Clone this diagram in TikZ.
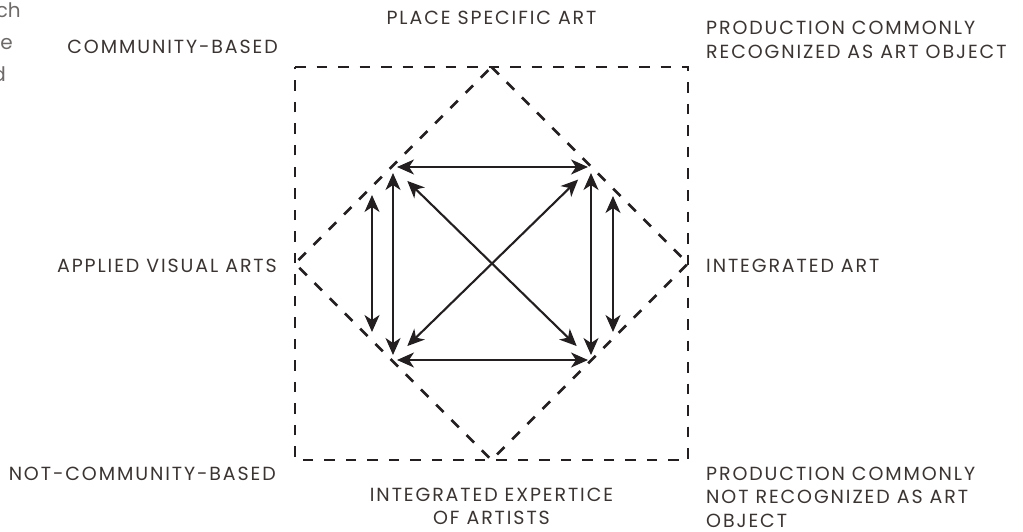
\documentclass[tikz,border=0pt]{standalone}
\usepackage{fontspec}
\setmainfont{Poppins}[LetterSpace=10]
\usetikzlibrary{arrows.meta}
\definecolor{ink}{HTML}{231F20}
\definecolor{txt}{HTML}{3A3432}
\definecolor{greytxt}{HTML}{6E6A6A}
\begin{document}
\begin{tikzpicture}[x=1pt,y=-1pt,
  frame/.style={ink, line width=2.8pt, dash pattern=on 10.5pt off 11pt},
  tipa/.tip={Stealth[length=17pt,width=15pt,inset=5pt]},
  link/.style={ink, line width=2.1pt, tipa-tipa},
  lab/.style={txt, font=\fontsize{19}{24}\selectfont, inner sep=0pt},
  cut/.style={greytxt, font=\fontsize{20}{32}\selectfont\addfontfeatures{LetterSpace=0}, inner sep=0pt, anchor=base east}]
\useasboundingbox (0,0) rectangle (1023,532);
% outer square
\coordinate (s1) at (295,67);
\coordinate (s2) at (688,67);
\coordinate (s3) at (688,460);
\coordinate (s4) at (295,460);
\draw[frame] (s1) -- (s2) -- (s3) -- (s4) -- cycle;
% diamond
\coordinate (dt) at (491.5,67);
\coordinate (dr) at (688,263.5);
\coordinate (db) at (491.5,460);
\coordinate (dl) at (295,263.5);
\draw[frame] (dt) -- (dr) -- (db) -- (dl) -- cycle;
% inner corners
\coordinate (tl) at (393,167);
\coordinate (tr) at (591,167);
\coordinate (bl) at (393,360);
\coordinate (br) at (591,360);
\draw[link, shorten <=4pt, shorten >=3pt] (tl) -- (tr);
\draw[link, shorten <=4pt, shorten >=3pt] (bl) -- (br);
\draw[link, shorten <=6pt, shorten >=5pt] (tl) -- (bl);
\draw[link, shorten <=6pt, shorten >=5pt] (tr) -- (br);
\draw[link, shorten <=20pt, shorten >=20pt] (tl) -- (br);
\draw[link, shorten <=20pt, shorten >=18pt] (bl) -- (tr);
% short verticals
\coordinate (sl1) at (372,195);
\coordinate (sl2) at (372,332);
\coordinate (sr1) at (613,196);
\coordinate (sr2) at (613,332);
\draw[link] (sl1) -- (sl2);
\draw[link] (sr1) -- (sr2);
% labels
\node[lab, anchor=base] (place) at (491.5,25) {PLACE SPECIFIC ART};
\node[lab, anchor=base east] (comm) at (278,54) {COMMUNITY-BASED};
\node[lab, anchor=base west] (prodA1) at (706,35) {PRODUCTION COMMONLY};
\node[lab, anchor=base west] (prodA2) at (706,59) {RECOGNIZED AS ART OBJECT};
\node[lab, anchor=base east] (applied) at (277,272) {APPLIED VISUAL ARTS};
\node[lab, anchor=base west] (integ) at (706,272) {INTEGRATED ART};
\node[lab, anchor=base east] (notcomm) at (276,480) {NOT-COMMUNITY-BASED};
\node[lab, anchor=base] (exp1) at (491.5,501) {INTEGRATED EXPERTICE};
\node[lab, anchor=base] (exp2) at (491.5,524) {OF ARTISTS};
\node[lab, anchor=base west] (prodB1) at (706,480) {PRODUCTION COMMONLY};
\node[lab, anchor=base west] (prodB2) at (706,503) {NOT RECOGNIZED AS ART};
\node[lab, anchor=base west] (prodB3) at (706,527) {OBJECT};
% cut-off text at the left edge
\node[cut] (cutA) at (21,18) {ch};
\node[cut] (cutB) at (13,50) {e};
\node[cut] (cutC) at (6,82) {d};
\end{tikzpicture}
\end{document}
